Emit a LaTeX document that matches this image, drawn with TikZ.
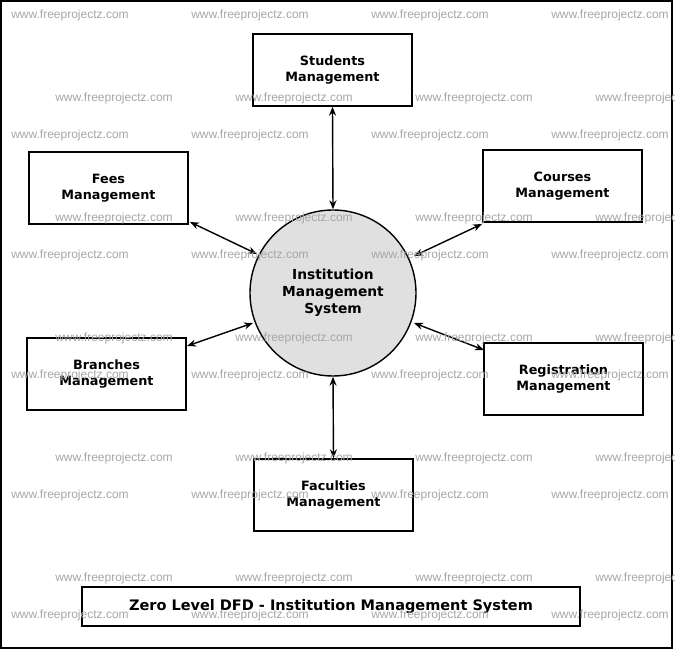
\documentclass[tikz,border=0pt]{standalone}
\usepackage{fontspec}
\setmainfont{DejaVu Sans}
\newfontfamily\wmfont{Liberation Sans}
\usetikzlibrary{arrows.meta}
\begin{document}
\begin{tikzpicture}[x=1pt,y=-1pt,
  box/.style={draw,line width=1.4pt,fill=white,minimum width=159pt,minimum height=72pt,align=center,font=\bfseries\fontsize{12.8}{16.5}\selectfont},
  conn/.style={{Stealth[length=9pt,width=7pt]}-{Stealth[length=9pt,width=7pt]},line width=1.4pt},
  wm/.style={text=black!35,font=\wmfont\fontsize{12}{14}\selectfont}]
\useasboundingbox (0,0) rectangle (675,652);
\draw[line width=1.4pt] (1,1) rectangle (672,648);
\node[draw,circle,line width=1.4pt,fill=black!12,minimum size=166pt,align=center,font=\bfseries\fontsize{13.8}{17}\selectfont] (ims) at (333,293) {Institution\\Management\\System};
\node[box] (stu) at (332.5,70) {Students\\Management};
\node[box] (fee) at (108.5,188) {Fees\\Management};
\node[box] (cou) at (562.5,186) {Courses\\Management};
\node[box] (bra) at (106.5,374) {Branches\\Management};
\node[box] (reg) at (563.5,379) {Registration\\Management};
\node[box] (fac) at (333.5,495) {Faculties\\Management};
\node[draw,line width=1.4pt,minimum width=498pt,minimum height=39pt,font=\bfseries\fontsize{14.5}{17}\selectfont] (title) at (331,606.5) {Zero Level DFD - Institution Management System};
\draw[conn] (stu.south) -- (ims.north);
\draw[conn] (fac.north) -- (ims.south);
\coordinate (f1) at (190,222); \coordinate (f2) at (257,254);
\draw[conn] (f1) -- (f2);
\coordinate (c1) at (482,224); \coordinate (c2) at (414,256);
\draw[conn] (c1) -- (c2);
\coordinate (b1) at (187,346); \coordinate (b2) at (253,323);
\draw[conn] (b1) -- (b2);
\coordinate (r1) at (484,350); \coordinate (r2) at (414,323);
\draw[conn] (r1) -- (r2);
\foreach \y in {15,135,255,375,495,615}{\foreach \x in {70,250,430,610}{\node[wm] at (\x,\y) {www.freeprojectz.com};}}
\foreach \y in {98,218,338,458,578}{\foreach \x in {114,294,474,654}{\node[wm] at (\x,\y) {www.freeprojectz.com};}}
\end{tikzpicture}
\end{document}
